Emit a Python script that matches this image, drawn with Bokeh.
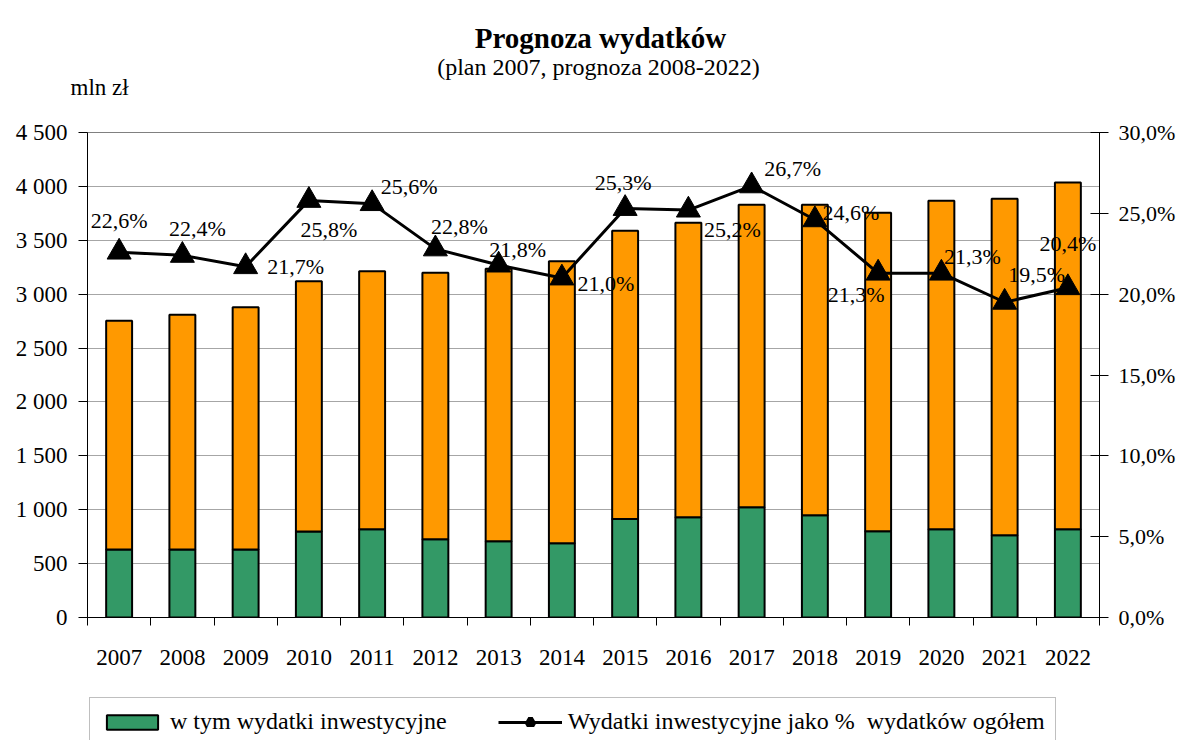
from bokeh.plotting import figure
from bokeh.layouts import column
from bokeh.models import (ColumnDataSource, Range1d, LinearAxis, FixedTicker,
                          LabelSet, Label, Legend, LegendItem, Plot)
from bokeh.core.properties import value
from bokeh.embed import file_html
from bokeh.resources import INLINE

# ---------------- data ----------------
years = ["2007", "2008", "2009", "2010", "2011", "2012", "2013", "2014",
         "2015", "2016", "2017", "2018", "2019", "2020", "2021", "2022"]
total_spending = [2753, 2808, 2879, 3121, 3213, 3198, 3235, 3306,
                  3588, 3662, 3829, 3829, 3755, 3866, 3885, 4036]
invest_spending = [631, 631, 631, 798, 819, 727, 708, 690,
                   915, 931, 1024, 949, 801, 819, 764, 819]
invest_pct = [22.6, 22.4, 21.7, 25.8, 25.6, 22.8, 21.8, 21.0,
              25.3, 25.2, 26.7, 24.6, 21.3, 21.3, 19.5, 20.4]
left_ticks = [0, 500, 1000, 1500, 2000, 2500, 3000, 3500, 4000, 4500]
left_tick_labels = ["0", "500", "1 000", "1 500", "2 000", "2 500",
                    "3 000", "3 500", "4 000", "4 500"]
right_ticks = [0, 5, 10, 15, 20, 25, 30]
right_tick_labels = ["0,0%", "5,0%", "10,0%", "15,0%", "20,0%", "25,0%", "30,0%"]

# data-label placement (screen px, y up positive) - layout only
label_dx = [0, 15, 50, 20, 37, 24, 19, 44, -2, 44, 41, 36, -22, 31, 32, 0]
label_dy = [32, 27, 0, -29, 17, 22, 16, -5, 26, -19, 17, 7, -21, 17, 28, 44]

# ---------------- layout constants ----------------
FONT = "Liberation Serif"
W = 1184
FRAME_TOP, FRAME_BOTTOM = 132, 617
FRAME_LEFT, FRAME_RIGHT = 87, 1099
HA = 116                      # header
HF = 60                       # footer (legend)
HB = 740 - HA - HF            # chart
CHART_BOTTOM = HA + HB

# can header/footer opt out of frame alignment with the chart?
CAN_UNALIGN = "frame_align" in Plot.properties()
if CAN_UNALIGN:
    AUX_X0, AUX_X1 = 0, W
else:
    AUX_X0, AUX_X1 = FRAME_LEFT, FRAME_RIGHT


def aux_figure(h, x0, x1):
    f = figure(width=W, height=h, output_backend="svg", toolbar_location=None,
               x_range=Range1d(x0, x1), y_range=Range1d(0, h),
               x_axis_type=None, y_axis_type=None, min_border=0,
               outline_line_color=None, background_fill_color="white",
               border_fill_color="white")
    if CAN_UNALIGN:
        f.frame_align = False
    return f


# ---------------- header (titles) ----------------
head = aux_figure(HA, AUX_X0, AUX_X1)
head.add_layout(Label(x=600, y=HA - 37, text="Prognoza wydatków",
                      text_align="center", text_baseline="middle",
                      text_font=FONT, text_font_size="29px",
                      text_font_style="bold", text_color="black"))
head.add_layout(Label(x=598, y=HA - 66, text="(plan 2007, prognoza 2008-2022)",
                      text_align="center", text_baseline="middle",
                      text_font=FONT, text_font_size="24px", text_color="black"))
head.add_layout(Label(x=max(70, AUX_X0 + 1), y=HA - 87, text="mln zł",
                      text_align="left", text_baseline="middle",
                      text_font=FONT, text_font_size="23px", text_color="black"))

# ---------------- chart ----------------
xs = [i + 0.5 for i in range(len(years))]
labels = [("%.1f" % v).replace(".", ",") + "%" for v in invest_pct]
src = ColumnDataSource(dict(x=xs, total=total_spending, inv=invest_spending,
                            pct=invest_pct, label=labels, dx=label_dx, dy=label_dy))

p = figure(width=W, height=HB, output_backend="svg", toolbar_location=None,
           x_range=Range1d(0, len(years)), y_range=Range1d(0, 4500),
           min_border_left=FRAME_LEFT, min_border_right=W - FRAME_RIGHT,
           min_border_top=FRAME_TOP - HA, min_border_bottom=CHART_BOTTOM - FRAME_BOTTOM,
           background_fill_color="white", border_fill_color="white")
p.outline_line_color = "#808080"
p.outline_line_width = 1
p.extra_y_ranges = {"pct": Range1d(0, 30)}

p.xgrid.visible = False
p.ygrid.ticker = FixedTicker(ticks=left_ticks)
p.ygrid.grid_line_color = "#a6a6a6"
p.ygrid.grid_line_width = 1

xa = p.xaxis[0]
xa.ticker = FixedTicker(ticks=xs, minor_ticks=list(range(len(years) + 1)))
xa.major_label_overrides = {x: y for x, y in zip(xs, years)}
xa.major_tick_out = 0
xa.major_tick_in = 0
xa.minor_tick_out = 8
xa.minor_tick_in = 0
xa.minor_tick_line_color = "black"
xa.axis_line_color = "black"
xa.major_label_standoff = 24
xa.major_label_text_font = FONT
xa.major_label_text_font_size = "23px"
xa.major_label_text_color = "black"

ya = p.yaxis[0]
ya.ticker = FixedTicker(ticks=left_ticks)
ya.major_label_overrides = dict(zip(left_ticks, left_tick_labels))
ya.major_tick_out = 9
ya.major_tick_in = 0
ya.minor_tick_out = 0
ya.minor_tick_in = 0
ya.axis_line_color = "black"
ya.major_tick_line_color = "black"
ya.major_label_standoff = 11
ya.major_label_text_font = FONT
ya.major_label_text_font_size = "23px"
ya.major_label_text_color = "black"

ra = LinearAxis(y_range_name="pct", ticker=FixedTicker(ticks=right_ticks))
ra.major_label_overrides = dict(zip(right_ticks, right_tick_labels))
ra.major_tick_out = 9
ra.major_tick_in = 9
ra.minor_tick_out = 0
ra.minor_tick_in = 0
ra.axis_line_color = "black"
ra.major_tick_line_color = "black"
ra.major_label_standoff = 10
ra.major_label_text_font = FONT
ra.major_label_text_font_size = "22px"
ra.major_label_text_color = "black"
p.add_layout(ra, "right")

bw = 0.41
GREEN, ORANGE = "#339966", "#FF9900"
p.vbar(x="x", bottom=0, top="inv", width=bw, source=src,
       fill_color=GREEN, line_color="black", line_width=2)
p.vbar(x="x", bottom="inv", top="total", width=bw, source=src,
       fill_color=ORANGE, line_color="black", line_width=2)
p.line(x="x", y="pct", source=src, y_range_name="pct",
       line_color="black", line_width=3)
p.scatter(x="x", y="pct", source=src, y_range_name="pct",
          marker="triangle", size=24, fill_color="black", line_color="black")

ls = LabelSet(x="x", y="pct", text="label", x_offset="dx", y_offset="dy",
              y_range_name="pct", source=src, text_align="center",
              text_baseline="middle", text_font=value(FONT),
              text_font_size=value("22px"), text_color="black")
p.add_layout(ls)
if CAN_UNALIGN:
    p.frame_align = False

# ---------------- footer (legend) ----------------
# hidden copies of the series provide the legend glyphs only
foot = aux_figure(HF, 1000, 1000 + W)
lg_green = foot.vbar(x="x", bottom=0, top="inv", width=bw, source=src,
                     fill_color=GREEN, line_color="black", line_width=2)
lg_line = foot.line(x="x", y="pct", source=src, line_color="black", line_width=3)
lg_mark = foot.scatter(x="x", y="pct", source=src, marker="triangle", size=24,
                       fill_color="black", line_color="black", line_width=5)
for r in (lg_green, lg_line, lg_mark):
    r.visible = False

LEG_TOP = 699 - CHART_BOTTOM
LEG_LEFT = 89
legend = Legend(items=[
    LegendItem(label="w tym wydatki inwestycyjne", renderers=[lg_green]),
    LegendItem(label="Wydatki inwestycyjne jako %  wydatków ogółem",
               renderers=[lg_line, lg_mark]),
], orientation="horizontal", click_policy="none")
legend.label_text_font = FONT
legend.label_text_font_size = "24px"
legend.label_text_color = "black"
legend.glyph_width = 64
legend.glyph_height = 18
legend.label_standoff = 6
legend.spacing = 51
legend.padding = 10
legend.margin = 0
legend.border_line_color = "#808080"
legend.border_line_width = 1
legend.background_fill_color = "white"
legend.background_fill_alpha = 1
legend.location = (LEG_LEFT if CAN_UNALIGN else LEG_LEFT - FRAME_LEFT, HF - LEG_TOP - 47)
foot.add_layout(legend)

layout = column(head, p, foot, spacing=0)
open("out.html", "w").write(file_html(layout, INLINE))
